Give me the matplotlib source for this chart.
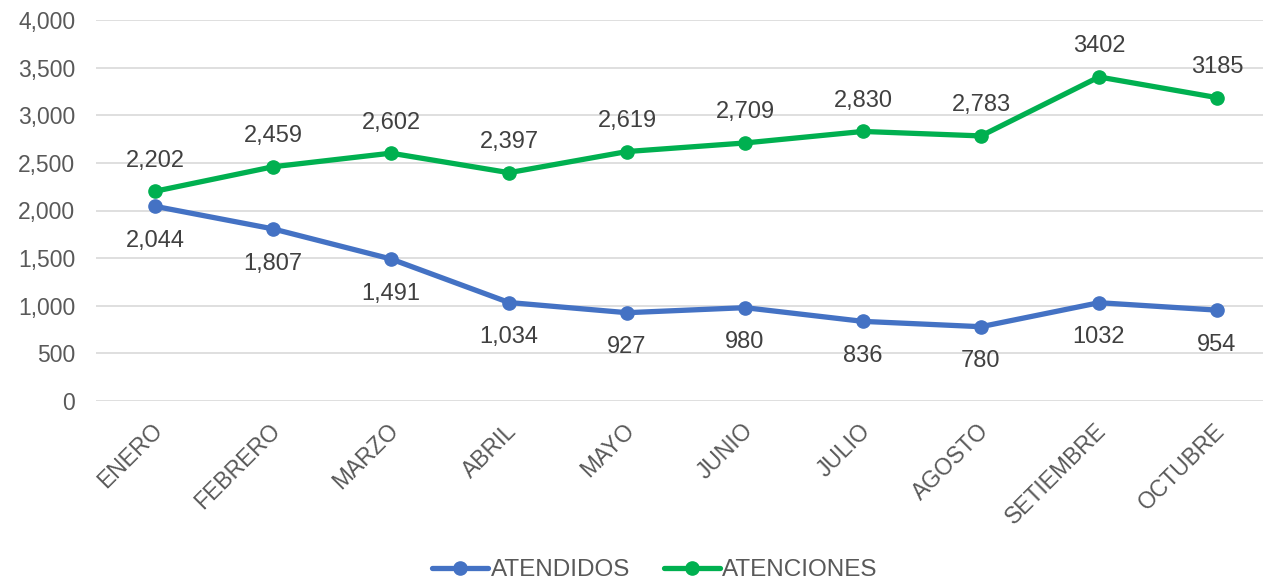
import matplotlib
matplotlib.use("Agg")
import matplotlib.pyplot as plt
from matplotlib.ticker import FuncFormatter
import matplotlib.transforms as mtransforms

months = ["ENERO", "FEBRERO", "MARZO", "ABRIL", "MAYO", "JUNIO", "JULIO", "AGOSTO", "SETIEMBRE", "OCTUBRE"]
atendidos = [2044, 1807, 1491, 1034, 927, 980, 836, 780, 1032, 954]
atenciones = [2202, 2459, 2602, 2397, 2619, 2709, 2830, 2783, 3402, 3185]
atendidos_labels = ["2,044", "1,807", "1,491", "1,034", "927", "980", "836", "780", "1032", "954"]
atenciones_labels = ["2,202", "2,459", "2,602", "2,397", "2,619", "2,709", "2,830", "2,783", "3402", "3185"]

plt.rcParams['font.family'] = ['Liberation Sans', 'DejaVu Sans']

W, H = 1263, 583
fig = plt.figure(figsize=(W / 100, H / 100), dpi=100)
ax = fig.add_axes([96 / W, 1 - 401 / H, (1276 - 96) / W, (401 - 20) / H])

x = list(range(len(months)))
blue = "#4472C4"
green = "#00B050"
ax.plot(x, atendidos, color=blue, lw=3.8, marker="o", ms=9.5, label="ATENDIDOS", solid_capstyle="round", zorder=3)
ax.plot(x, atenciones, color=green, lw=3.8, marker="o", ms=9.5, label="ATENCIONES", solid_capstyle="round", zorder=3)

for xi, v, t in zip(x, atendidos, atendidos_labels):
    ax.annotate(t, (xi, v), xytext=(0, -25), textcoords="offset points", ha="center", va="center",
                fontsize=17, color="#404040")
for xi, v, t in zip(x, atenciones, atenciones_labels):
    ax.annotate(t, (xi, v), xytext=(0, 22), textcoords="offset points", ha="center", va="center",
                fontsize=17, color="#404040")

ax.set_xlim(-0.5, len(months) - 0.5)
ax.set_ylim(0, 4000)
ax.set_yticks(range(0, 4001, 500))
ax.yaxis.set_major_formatter(FuncFormatter(lambda v, p: f"{int(v):,}"))
ax.grid(axis="y", color="#D9D9D9", lw=1.2)
ax.set_axisbelow(True)
for s in ax.spines.values():
    s.set_visible(False)
ax.tick_params(axis="both", length=0, labelsize=16.5, labelcolor="#595959")
ax.tick_params(axis="y", pad=15)
ax.set_xticks(x)
ax.set_xticklabels(months, rotation=45, ha="right", rotation_mode="anchor")
ax.tick_params(axis="x", pad=13)
off = mtransforms.ScaledTranslation(-4 / 100, 0, fig.dpi_scale_trans)
for lbl in ax.get_xticklabels():
    lbl.set_transform(lbl.get_transform() + off)

leg = fig.legend(loc="center", bbox_to_anchor=(655 / W, 1 - 570 / H), ncol=2, frameon=False,
                 fontsize=17.5, handlelength=2.3, handletextpad=0.1, columnspacing=1.4)
for t in leg.get_texts():
    t.set_color("#595959")

fig.savefig("out.png", dpi=100)
